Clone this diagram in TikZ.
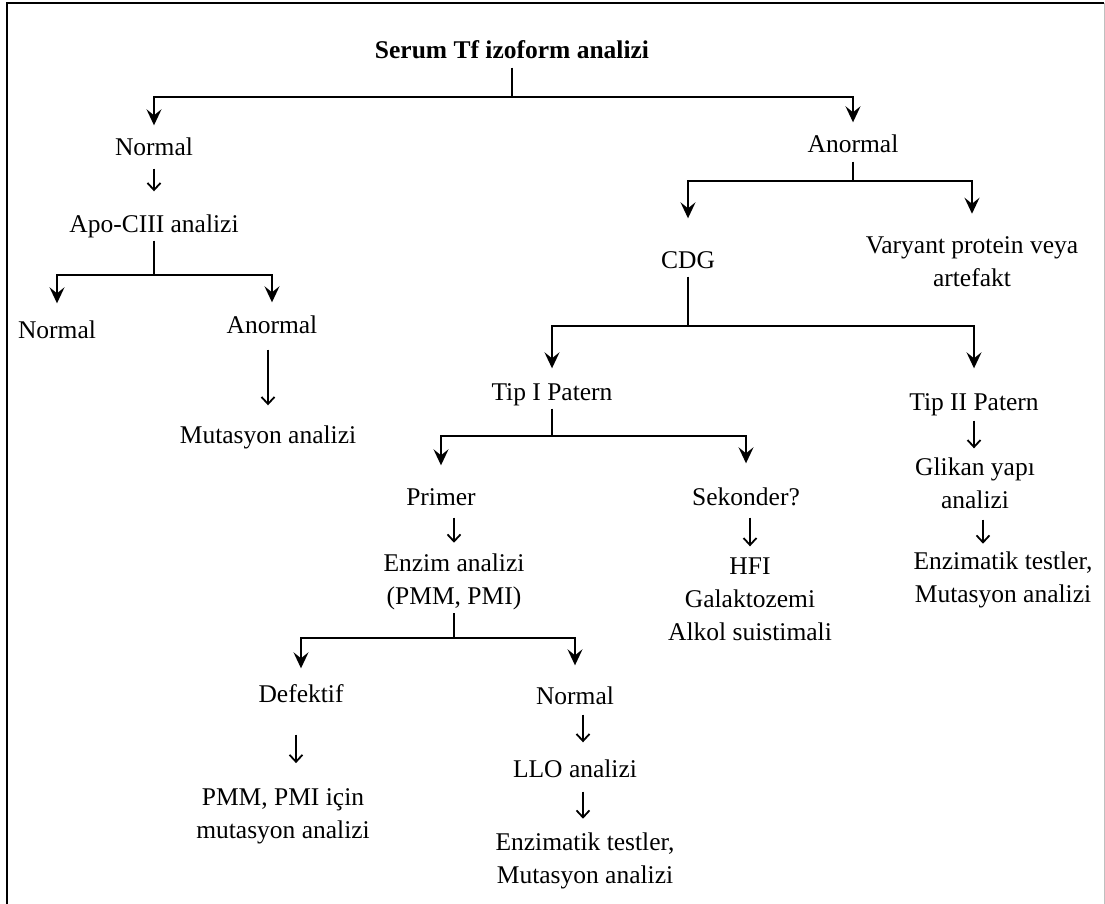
\documentclass[tikz,border=0pt]{standalone}
\usepackage{fontspec}
\setmainfont{Liberation Serif}
\usetikzlibrary{arrows.meta}

\begin{document}
\begin{tikzpicture}[x=1pt, y=-1pt,
    every node/.style={font=\fontsize{25.5}{33}\selectfont},
    txtnode/.style={inner sep=3pt, text height=17.5pt, text depth=5.5pt},
    multinode/.style={inner sep=3pt, align=center},
    link/.style={line width=1.6pt},
    brarrow/.style={line width=1.6pt, -{Stealth[length=16pt,width=15pt,inset=6pt]}, shorten >=10pt},
    smarrow/.style={line width=1.8pt, -{Straight Barb[length=7pt,width=13pt]}, shorten <=4pt, shorten >=8pt}]
\useasboundingbox (0,0) rectangle (1105,904);

            % frame
            \draw[line width=1.5pt] (7,904) -- (7,3) -- (1104,3);
            \draw[line width=1pt, black!25] (1104,3) -- (1104,904);

            % nodes
            \node[txtnode, font=\fontsize{25.5}{33}\selectfont\bfseries] (title) at (512,53) {Serum Tf izoform analizi};
            \node[txtnode] (normA) at (154,150) {Normal};
            \node[txtnode] (anorA) at (853,147) {Anormal};
            \node[txtnode] (apo) at (154,226) {Apo-CIII analizi};
            \node[txtnode] (normB) at (57,332) {Normal};
            \node[txtnode] (anorB) at (272,327) {Anormal};
            \node[txtnode] (mutA) at (268,437) {Mutasyon analizi};
            \node[txtnode] (cdg) at (688,262) {CDG};
            \node[multinode] (varyant) at (972,262) {Varyant protein veya\\artefakt};
            \node[txtnode] (tipI) at (552,394) {Tip I Patern};
            \node[txtnode] (tipII) at (974,404) {Tip II Patern};
            \node[txtnode] (primer) at (441,499) {Primer};
            \node[txtnode] (sekonder) at (746,499) {Sekonder?};
            \node[multinode] (enzim) at (454,582) {Enzim analizi\\(PMM, PMI)};
            \node[multinode] (hfi) at (750,599) {HFI\\Galaktozemi\\Alkol suistimali};
            \node[txtnode] (defektif) at (301,696) {Defektif};
            \node[txtnode] (normC) at (575,698) {Normal};
            \node[txtnode] (llo) at (575,771) {LLO analizi};
            \node[multinode] (pmm) at (283,816) {PMM, PMI için\\mutasyon analizi};
            \node[multinode] (enzB) at (585,861) {Enzimatik testler,\\Mutasyon analizi};
            \node[multinode] (glikan) at (975,483) {Glikan yapı\\analizi};
            \node[multinode] (enzC) at (1003,580) {Enzimatik testler,\\Mutasyon analizi};

            % branch bars
            \coordinate (barA) at (512,97);
            \coordinate (barB) at (154,275);
            \coordinate (barC) at (853,181);
            \coordinate (barD) at (688,326);
            \coordinate (barE) at (552,436);
            \coordinate (barF) at (454,638);

            \draw[link] (title.south) -- (barA);
            \draw[brarrow] (barA) -| (normA.north);
            \draw[brarrow] (barA) -| (anorA.north);

            \draw[link] (apo.south) -- (barB);
            \draw[brarrow, shorten >=14pt] (barB) -| (normB.north);
            \draw[brarrow] (barB) -| (anorB.north);

            \draw[link] (anorA.south) -- (barC);
            \draw[brarrow, shorten >=29pt] (barC) -| (cdg.north);
            \draw[brarrow, shorten >=20pt] (barC) -| (varyant.north);

            \draw[link] (cdg.south) -- (barD);
            \draw[brarrow, shorten >=11pt] (barD) -| (tipI.north);
            \draw[brarrow, shorten >=21pt] (barD) -| (tipII.north);

            \draw[link] (tipI.south) -- (barE);
            \draw[brarrow, shorten >=19pt] (barE) -| (primer.north);
            \draw[brarrow, shorten >=21pt] (barE) -| (sekonder.north);

            \draw[link] (enzim.south) -- (barF);
            \draw[brarrow, shorten >=13pt] (barF) -| (defektif.north);
            \draw[brarrow, shorten >=18pt] (barF) -| (normC.north);

            % single steps
            \draw[smarrow, shorten >=20pt] (normA.south) -- (apo.north);
            \draw[smarrow, shorten <=8pt, shorten >=17pt] (anorB.south -| mutA) -- (mutA.north);
            \draw[smarrow] (primer.south -| enzim) -- (enzim.north);
            \draw[smarrow] (sekonder.south -| hfi) -- (hfi.north);
            \draw[smarrow, shorten <=24pt, shorten >=22pt] ([xshift=-5pt]defektif.south) -- ([xshift=-5pt]defektif.south |- pmm.north);
            \draw[smarrow, shorten <=2pt, shorten >=14pt] ([xshift=8pt]normC.south) -- ([xshift=8pt]llo.north);
            \draw[smarrow, shorten <=6pt, shorten >=11pt] ([xshift=8pt]llo.south) -- ([xshift=8pt]llo.south |- enzB.north);
            \draw[smarrow, shorten <=2pt, shorten >=6pt] (tipII.south) -- (tipII.south |- glikan.north);
            \draw[smarrow, shorten <=8pt, shorten >=5pt] ([xshift=8pt]glikan.south) -- ([xshift=8pt]glikan.south |- enzC.north);
        \end{tikzpicture}
\end{document}
